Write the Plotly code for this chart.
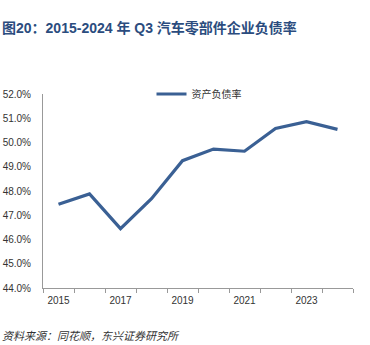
import plotly.graph_objects as go

years = [2015, 2016, 2017, 2018, 2019, 2020, 2021, 2022, 2023, 2024]
debt_ratio = [47.45, 47.88, 46.45, 47.68, 49.25, 49.73, 49.64, 50.58, 50.86, 50.54]
series_name = "资产负债率"
x_tick_labels = ["2015", "2017", "2019", "2021", "2023"]
x_tick_vals = [2015, 2017, 2019, 2021, 2023]
y_tick_vals = [44, 45, 46, 47, 48, 49, 50, 51, 52]
title_text = "图20：2015-2024 年 Q3 汽车零部件企业负债率"
source_text = "资料来源：同花顺，东兴证券研究所"

W, H = 370, 345
L, R, T, B = 43.3, 16.7, 94, 56.7

fig = go.Figure()
fig.add_trace(go.Scatter(
    x=years, y=debt_ratio, mode="lines", name=series_name,
    line=dict(color="#3A6094", width=3.2),
))

fig.update_layout(
    width=W, height=H,
    margin=dict(l=L, r=R, t=T, b=B, pad=0),
    paper_bgcolor="white", plot_bgcolor="white",
    font=dict(family="Liberation Sans, Arial, sans-serif", size=10, color="#333333"),
    showlegend=True,
    legend=dict(
        x=0.35, y=1.0, xanchor="left", yanchor="middle",
        orientation="h", bgcolor="rgba(0,0,0,0)",
        font=dict(family="Noto Sans CJK SC", size=10, color="#333333"),
        itemwidth=30,
    ),
    xaxis=dict(
        range=[2014.5, 2024.5],
        tickvals=x_tick_vals, ticktext=x_tick_labels,
        ticks="", showgrid=False, zeroline=False,
        showline=True, linecolor="#999999", linewidth=1,
        ticklabelstandoff=3, automargin=False,
        minor=dict(tickvals=[y + 0.5 for y in range(2014, 2025)], ticks="outside",
                   ticklen=4, tickcolor="#999999", tickwidth=1, showgrid=False),
    ),
    yaxis=dict(
        range=[44, 52],
        tickvals=y_tick_vals, ticktext=[f"{v:.1f}%" for v in y_tick_vals],
        ticks="", showgrid=False, zeroline=False,
        showline=True, linecolor="#999999", linewidth=1,
        ticklabelstandoff=9, automargin=False,
    ),
)

fig.add_annotation(
    text=title_text, xref="paper", yref="paper",
    x=-L / (W - L - R), y=1 + (T - 27.5) / (H - T - B),
    xanchor="left", yanchor="middle", showarrow=False,
    font=dict(family="Liberation Sans, Noto Sans CJK SC", size=14, color="#2B4C7E", weight="bold"),
)
fig.add_annotation(
    text=source_text, xref="paper", yref="paper",
    x=-L / (W - L - R), y=-(335 - (H - B)) / (H - T - B),
    xanchor="left", yanchor="middle", showarrow=False,
    font=dict(family="Noto Sans CJK SC", size=11, color="#333333", style="italic"),
)

fig.write_html("out.html")
